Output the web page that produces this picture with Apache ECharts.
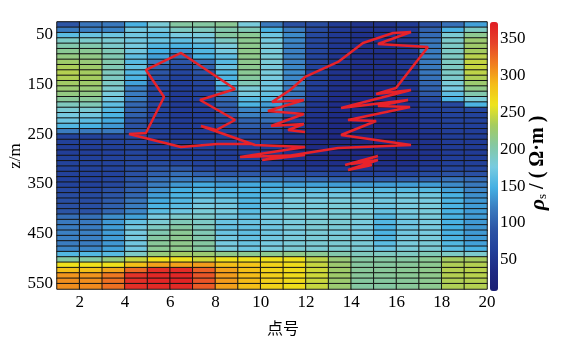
<!DOCTYPE html>
<html><head><meta charset="utf-8">
<script src="https://cdn.jsdelivr.net/npm/echarts@6/dist/echarts.min.js"></script>
<style>html,body{margin:0;padding:0;background:#fff}#c{width:563px;height:339px}</style>
</head><body><div id="c"></div>
<script>
// Apparent resistivity (Ω·m) per column (point interval), rows top (shallow) to bottom (deep), 50 rows each
const c01 = [92,120,160,188,200,210,218,228,235,238,236,230,224,218,208,192,182,175,170,155,120, 68,65,62,62,65,68,68,66,65,68, 75,80,82,85,90, 110,118,120,122,122,120,125, 155,205,262,285,305,308,308];
const c02 = [115,122,168,186,200,210,216,222,228,232,232,228,222,216,208,195,182,172,160,150,118, 66,64,62,62,64,66,66,65,64,66, 72,78,80,84,88, 112,118,120,122,122,120,125, 155,205,262,285,305,308,310];
const c03 = [118,125,170,182,186,195,198,200,196,192,190,188,185,178,172,162,156,152,145,135,118, 70,66,64,64,66,68,68,68,70,74, 85,92,96,100,105, 130,135,138,138,138,135,140, 158,220,262,298,318,322,322];
const c04 = [150,172,172,172,175,172,162,158,165,155,152,140,122,120,120,105,102,100,90,88,85, 75,72,70,70,72,75,80, 85,90,95,100,105, 115,120,125,140, 165,172,175,175,172,172, 188,245,285,325,355,358,358];
const c05 = [180,172,162,168,155,148,140,118,102,92,82,75,72,70,70,70,68,68,66,66,66, 62,60,60,62,66, 80,92,100,110,120,130,138,145,152,160, 175,182,190,198,205,208,210, 220,262,300,358,364,365,362];
const c06 = [205,190,176,162,152,130,105,92,78,70,65,62,60,58,58,58,58,58,58,58,58, 56,56,58,60,64,72, 95,110,120,135,148,152,155,160,170, 185,195,205,210,212,214,214, 230,262,300,360,365,366,362];
const c07 = [205,192,178,172,158,155,150,112,100,88,78,72,68,66,64,62,62,62,62,62,62, 60,60,60,62,64,68,75, 100,120,145,152,160,170,175,180, 185,188,192,196,200,205,205, 225,248,302,330,335,335,332];
const c08 = [210,200,205,190,178,175,162,158,168,155,152,158,140,122,108,100,95,88,80,72,68, 64,62,60,60,62,66,72, 95,118,138,150,158,168,172,175, 172,168,165,168,172,175,178, 215,262,285,300,302,302,300];
const c09 = [178,195,210,212,213,214,214,213,212,210,206,195,180,175,158,152,125,122,102,98,85, 70,66,62,60,60,64,70, 95,118,145,150,152,155,155,160, 165,168,165,162,165,168,170, 212,262,282,285,288,288,285];
const c10 = [118,150,170,175,178,178,180,180,178,178,176,172,170,165,155,138,132,115,110,92,80, 66,62,58,55,55,58,66, 90,115,145,152,160,165,170,172, 174,172,170,170,172,175,178, 212,262,272,272,274,274,272];
const c11 = [85,120,128,126,122,122,122,124,126,128,126,122,118,116,112,108,88,75,66,60,55, 50,45,42,42,44,50,60, 85,112,140,160,172,176,178,178, 180,178,178,176,178,180,182, 215,262,265,266,266,266,265];
const c12 = [80,78,76,74,72,72,70,70,68,66,64,62,60,58,55,52,50,48,45,42,40, 38,36,35,35,38,45,55, 80,108,140,158,170,176,178,178, 180,182,182,180,180,182,182, 210,242,245,248,248,246,245];
const c13 = [58,56,55,54,52,52,50,50,48,48,46,45,44,42,40,40,38,38,36,36,35, 34,33,33,34,36,42,52, 72,100,138,160,172,178,180,180, 182,182,180,178,180,182,184, 200,222,226,228,228,226,225];
const c14 = [48,46,45,45,44,44,43,43,42,42,41,40,40,39,38,38,37,36,36,35,35, 34,33,33,34,36,42,50, 68,98,138,160,172,176,178,178, 180,178,176,176,178,180,182, 192,205,206,208,208,206,205];
const c15 = [48,46,46,45,45,44,44,43,43,42,42,41,40,40,39,38,38,37,36,36,35, 35,34,34,35,37,42,50, 68,98,138,158,168,172,170,165, 158,155,152,152,155,160,170, 190,205,206,208,208,206,205];
const c16 = [58,56,55,55,54,54,53,52,52,51,50,50,48,47,46,45,44,43,42,41,40, 39,38,38,39,40,44,52, 70,100,138,158,172,176,176,175, 172,170,170,172,175,178,180, 190,205,208,210,210,208,208];
const c17 = [85,102,108,115,118,120,120,118,118,116,112,105,100,95,78,68,62,58,55,52,50, 48,46,46,46,48,52,60, 78,102,138,158,172,176,178,178, 178,176,175,176,178,180,182, 195,210,212,214,214,212,212];
const c18 = [112,152,182,186,188,188,190,190,190,188,186,180,176,162,152,75,70,68,66,64,62, 60,58,58,58,60,64,70, 88,112,128,140, 150,152,152,150,150,150,148,150,152,155,160, 188,232,236,238,238,236,236];
const c19 = [140,190,212,225,228,232,240,244,245,242,236,226,215,200,180,152,72,68,66,64,62, 60,58,58,58,60,64,70, 85,108,118,125, 130,135,138,138,138,136,135,136,138,140,150, 185,232,238,240,240,238,238];
const columns = [c01,c02,c03,c04,c05,c06,c07,c08,c09,c10,c11,c12,c13,c14,c15,c16,c17,c18,c19];

// Red outline (point number, depth m)
const redX = [9.66,8.07,6.48,4.18,4.93,5.73,4.93,6.48,8.87,7.32,8.87,8.03,7.36,9.75,11.96,9.09,11.96,10.06,13.42,16.64,13.55,15.10,13.86,16.60,15.18,16.51,13.55,16.64,15.10,15.98,17.39,15.18,16.64,15.85,14.52,13.42,11.96,11.30,10.50,11.91,10.32,11.91,10.46,11.91,11.21,11.96];
const redZ = [270.0,270.0,276.1,249.9,247.9,175.4,121.0,86.8,159.3,181.5,221.7,241.9,233.8,272.1,276.1,296.2,292.2,302.3,278.1,272.1,251.9,223.7,221.7,195.5,193.5,181.5,197.6,161.3,169.4,157.3,74.7,68.7,44.5,46.5,66.7,104.9,135.1,161.3,185.5,181.5,203.6,209.6,233.8,229.8,241.9,245.9];
const isleX = [13.73,15.18,13.99,15.18,13.86,14.92];
const isleZ = [312.3,294.2,310.3,302.3,322.4,312.3];

const xTicks = [2,4,6,8,10,12,14,16,18,20];
const zTicks = [50,150,250,350,450,550];
const barTicks = [50,100,150,200,250,300,350];

const colIdx = columns.map((_, i) => i);
const rowIdx = c01.map((_, i) => i);
const heat = [];
columns.forEach((col, ci) => col.forEach((v, ri) => heat.push([ci, ri, v])));
const redLine = redX.map((x, i) => [x, redZ[i]]);
const isleLine = isleX.map((x, i) => [x, isleZ[i]]);

const SERIF = '"Liberation Serif", "Times New Roman", serif';
const lbl = {fontFamily: SERIF, fontSize: 17, color: '#000'};
const chart = echarts.init(document.getElementById('c'), null, {renderer: 'canvas'});
chart.setOption({
  animation: false,
  backgroundColor: '#fff',
  grid: [
    {left: 57, top: 22, width: 430, height: 267, show: false},
    {left: 490, top: 22, width: 8, height: 269, show: false}
  ],
  xAxis: [
    {type: 'category', gridIndex: 0, data: colIdx, show: false},
    {type: 'value', gridIndex: 0, position: 'bottom', min: 1, max: 20,
     axisLine: {show: false}, axisTick: {show: false}, splitLine: {show: false},
     axisLabel: Object.assign({customValues: xTicks, margin: 5}, lbl)},
    {type: 'value', gridIndex: 1, show: false}
  ],
  yAxis: [
    {type: 'category', gridIndex: 0, data: rowIdx, inverse: true, show: false},
    {type: 'value', gridIndex: 0, position: 'left', min: 24.4, max: 562, inverse: true,
     axisLine: {show: false}, axisTick: {show: false}, splitLine: {show: false},
     axisLabel: Object.assign({customValues: zTicks, margin: 4}, lbl)},
    {type: 'value', gridIndex: 1, position: 'right', min: 8, max: 372,
     axisLine: {show: false}, axisTick: {show: false}, splitLine: {show: false},
     axisLabel: Object.assign({customValues: barTicks, margin: 2}, lbl)}
  ],
  visualMap: {
    type: 'continuous', min: 8, max: 372, seriesIndex: 0, dimension: 2,
    orient: 'vertical', left: 490, top: 22, itemWidth: 8, itemHeight: 269,
    calculable: false, realtime: false, padding: 0, hoverLink: false,
    textStyle: {color: 'transparent'},
    inRange: {color: ['#1b1f74','#1e2a84','#22409a','#2c55a6','#3a7cc0','#45b0e3','#78cbe0','#84c8a4','#a4cb60','#eee41c','#f5bc18','#f07c20','#e6422a','#e01c24']}
  },
  series: [
    {type: 'heatmap', xAxisIndex: 0, yAxisIndex: 0, data: heat,
     itemStyle: {borderColor: '#141414', borderWidth: 1}, emphasis: {disabled: true}},
    {type: 'line', xAxisIndex: 1, yAxisIndex: 1, data: redLine, symbol: 'none', z: 5,
     lineStyle: {color: '#e8222a', width: 2.5}},
    {type: 'line', xAxisIndex: 1, yAxisIndex: 1, data: isleLine, symbol: 'none', z: 5,
     lineStyle: {color: '#e8222a', width: 2.5}}
  ],
  graphic: [
    {type: 'line', shape: {x1: 57, y1: 21.5, x2: 487, y2: 21.5}, style: {stroke: '#a8a8a8', lineWidth: 1}},
    {type: 'text', x: 16, y: 156, rotation: Math.PI / 2,
     style: {text: 'z/m', font: '17px ' + SERIF, fill: '#000', align: 'center', verticalAlign: 'middle'}},
    {type: 'text', x: 283, y: 328,
     style: {text: '点号', font: '16px "Noto Sans CJK SC"', fill: '#000', align: 'center', verticalAlign: 'middle'}},
    {type: 'text', x: 538, y: 163, rotation: Math.PI / 2,
     style: {text: '{r|ρ}{s|s}{t| / ( Ω·m )}', align: 'center', verticalAlign: 'middle', fill: '#000',
       rich: {
         r: {fontFamily: SERIF, fontSize: 22, fontWeight: 'bold', fontStyle: 'italic', color: '#000'},
         s: {fontFamily: SERIF, fontSize: 13, color: '#000', padding: [9, 0, 0, 0]},
         t: {fontFamily: SERIF, fontSize: 20, fontWeight: 'bold', color: '#000'}
       }}}
  ]
});
</script></body></html>
